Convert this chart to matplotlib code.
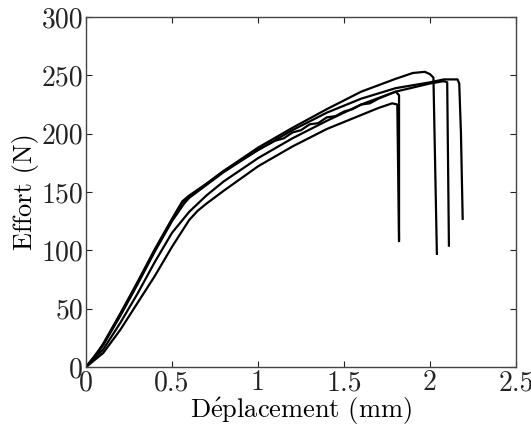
import matplotlib
matplotlib.use("Agg")
import matplotlib.pyplot as plt

plt.rcParams['font.family'] = ['cmr10', 'DejaVu Serif']
plt.rcParams['mathtext.fontset'] = 'cm'
plt.rcParams['axes.formatter.use_mathtext'] = True

# Curve A (highest peak, breaks near 2.03 mm)
xa = [0, 0.05, 0.1, 0.2, 0.3, 0.4, 0.5, 0.56, 0.6, 0.7, 0.8, 1.0, 1.2, 1.4, 1.6, 1.8, 1.9, 1.97, 2.0, 2.02, 2.04]
ya = [0, 9, 20, 46, 73, 101, 127, 142, 147, 157, 168, 188, 205, 221, 236, 247, 252, 253, 251, 248, 97]
# Curve B (breaks near 2.11 mm)
xb = [0, 0.1, 0.2, 0.3, 0.4, 0.5, 0.6, 0.7, 0.8, 1.0, 1.2, 1.4, 1.6, 1.8, 2.0, 2.08, 2.1, 2.11]
yb = [0, 15, 38, 63, 90, 115, 133, 147, 159, 179, 196, 211, 225, 236, 243, 245, 244, 104]
# Curve C (plateau, breaks near 2.19 mm)
xc = [0, 0.05, 0.1, 0.2, 0.3, 0.4, 0.5, 0.57, 0.6, 0.7, 0.8, 1.0, 1.2, 1.4, 1.6, 1.8, 2.0, 2.08, 2.16, 2.17, 2.18, 2.19]
yc = [0, 8, 19, 44, 71, 99, 125, 140, 145, 156, 167, 186, 203, 218, 230, 239, 244, 246.5, 246.5, 243, 200, 127]
# Curve D (jagged, breaks near 1.82 mm)
xd = [0, 0.1, 0.2, 0.3, 0.4, 0.5, 0.56, 0.6, 0.7, 0.8, 1.0, 1.1, 1.15, 1.2, 1.25, 1.3, 1.35, 1.4, 1.45,
      1.5, 1.55, 1.6, 1.65, 1.7, 1.75, 1.8, 1.82, 1.82]
yd = [0, 19, 45, 72, 100, 126, 141, 146, 157, 168, 186, 194, 196, 201, 203, 208, 209, 214, 215,
      219, 221, 225, 226, 230, 233, 236, 233, 110]
# Curve E (lowest, breaks near 1.82 mm)
xe = [0, 0.1, 0.2, 0.3, 0.4, 0.5, 0.6, 0.65, 0.7, 0.8, 1.0, 1.2, 1.4, 1.6, 1.7, 1.78, 1.81, 1.82]
ye = [0, 12, 32, 55, 78, 103, 126, 134, 140, 151, 172, 189, 204, 216, 222, 226, 225, 108]

curves = [(xa, ya), (xb, yb), (xc, yc), (xd, yd), (xe, ye)]

xticks = [0, 0.5, 1, 1.5, 2, 2.5]
xticklabels = ['0', '0.5', '1', '1.5', '2', '2.5']
yticks = [0, 50, 100, 150, 200, 250, 300]
yticklabels = ['0', '50', '100', '150', '200', '250', '300']

fig = plt.figure(figsize=(5.31, 4.28), dpi=100)
ax = fig.add_axes([86/531, 1-367/428, 430/531, 350/428])
for x, y in curves:
    ax.plot(x, y, color='black', lw=1.6)

ax.set_xlim(0, 2.5)
ax.set_ylim(0, 300)
ax.set_xticks(xticks)
ax.set_xticklabels(xticklabels)
ax.set_yticks(yticks)
ax.set_yticklabels(yticklabels)
ax.tick_params(direction='in', top=True, right=True, length=4, width=0.8,
               labelsize=20, pad=2, colors='#222222')
for s in ax.spines.values():
    s.set_linewidth(1.0)
    s.set_color('#444444')
ax.set_xlabel(r'D$\acute{\rm e}$placement (mm)', fontsize=19, labelpad=0)
ax.set_ylabel('Effort (N)', fontsize=19, labelpad=2)

fig.savefig('out.png', dpi=100)
